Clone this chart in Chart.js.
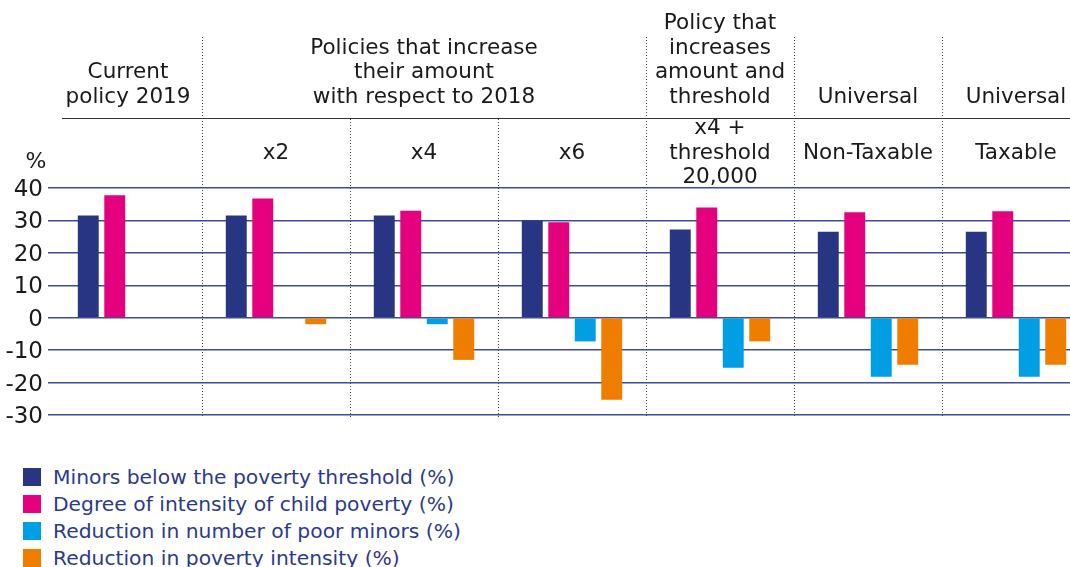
<!DOCTYPE html>
<html>
<head>
<meta charset="utf-8">
<script src="https://cdn.jsdelivr.net/npm/chart.js@4.4.1/dist/chart.umd.min.js"></script>
<style>
  html, body { margin: 0; padding: 0; background: #fff; overflow: hidden; width: 1070px; height: 567px; }
  #wrap { position: absolute; left: 0; top: 0; width: 1090px; height: 440px; }
  #legend { position: absolute; left: 23px; top: 463px; font-family: "DejaVu Sans", "Liberation Sans", sans-serif; font-size: 20.3px; color: #2d3a8a; }
  .item { height: 27px; display: flex; align-items: center; white-space: nowrap; }
  .box { width: 18px; height: 18px; margin-right: 12px; flex: none; }
</style>
</head>
<body>
<div id="wrap"><canvas id="grafica"></canvas></div>
<div id="legend"></div>
<script>
// categorias y cabeceras
const categorias = ['Current policy 2019', 'x2', 'x4', 'x6', 'x4 + threshold 20,000', 'Non-Taxable', 'Taxable'];
const cabecerasSup = [
    { lineas: ['Current', 'policy 2019'], desde: 0, hasta: 0 },
    { lineas: ['Policies that increase', 'their amount', 'with respect to 2018'], desde: 1, hasta: 3 },
    { lineas: ['Policy that', 'increases', 'amount and', 'threshold'], desde: 4, hasta: 4 },
    { lineas: ['Universal'], desde: 5, hasta: 5 },
    { lineas: ['Universal'], desde: 6, hasta: 6 }
];
const cabecerasInf = [[], ['x2'], ['x4'], ['x6'], ['x4 +', 'threshold', '20,000'], ['Non-Taxable'], ['Taxable']];

// series (%)
const menoresBajoUmbral = [31.5, 31.5, 31.5, 30.0, 27.2, 26.5, 26.5];
const intensidadPobreza = [37.8, 36.8, 33.0, 29.4, 34.0, 32.5, 32.8];
const reduccionMenores = [null, null, -2.0, -7.3, -15.4, -18.2, -18.2];
const reduccionIntensidad = [null, -2.0, -13.0, -25.3, -7.3, -14.5, -14.5];

const etiquetas = [
    'Minors below the poverty threshold (%)',
    'Degree of intensity of child poverty (%)',
    'Reduction in number of poor minors (%)',
    'Reduction in poverty intensity (%)'
];
const colores = ['#283583', '#e5007e', '#009fe3', '#ef7d00'];

const fuente = '"DejaVu Sans", "Liberation Sans", sans-serif';

const cabecerasPlugin = {
    id: 'cabeceras',
    afterDraw(chart) {
        const ctx = chart.ctx;
        const x = chart.scales.x;
        const area = chart.chartArea;
        const ancho = x.getPixelForValue(1) - x.getPixelForValue(0);
        const alto = 24.5;
        ctx.save();
        ctx.font = '21.5px ' + fuente;
        ctx.fillStyle = '#1a1a1a';
        ctx.textAlign = 'center';
        ctx.textBaseline = 'middle';

        cabecerasSup.forEach(function (c) {
            const cx = (x.getPixelForValue(c.desde) + x.getPixelForValue(c.hasta)) / 2;
            const n = c.lineas.length;
            c.lineas.forEach(function (t, i) {
                ctx.fillText(t, cx, 97 - (n - 1 - i) * alto);
            });
        });
        cabecerasInf.forEach(function (lineas, k) {
            const cx = x.getPixelForValue(k);
            const n = lineas.length;
            lineas.forEach(function (t, i) {
                ctx.fillText(t, cx, 153 + (i - (n - 1) / 2) * alto);
            });
        });

        ctx.font = '22px ' + fuente;
        ctx.fillText('%', 36, 162);

        // linea horizontal de cabecera
        ctx.strokeStyle = '#333';
        ctx.lineWidth = 1.2;
        ctx.beginPath();
        ctx.moveTo(62, 118.5);
        ctx.lineTo(chart.width, 118.5);
        ctx.stroke();

        // separadores punteados
        const limitesAltos = cabecerasSup.map(function (c) { return c.hasta; });
        ctx.setLineDash([1, 2]);
        ctx.lineWidth = 1;
        ctx.strokeStyle = '#444';
        for (let i = 0; i < categorias.length - 1; i++) {
            const px = Math.round(x.getPixelForValue(i) + ancho / 2) + 0.5;
            const y0 = limitesAltos.includes(i) ? 37 : 119;
            ctx.beginPath();
            ctx.moveTo(px, y0);
            ctx.lineTo(px, area.bottom + 3);
            ctx.stroke();
        }
        ctx.restore();
    }
};

const ctx = document.getElementById('grafica').getContext('2d');
new Chart(ctx, {
    type: 'bar',
    data: {
        labels: categorias,
        datasets: [menoresBajoUmbral, intensidadPobreza, reduccionMenores, reduccionIntensidad].map(function (d, i) {
            return {
                label: etiquetas[i],
                data: d,
                backgroundColor: colores[i],
                borderWidth: 0,
                categoryPercentage: 0.716,
                barPercentage: 0.79
            };
        })
    },
    options: {
        responsive: true,
        maintainAspectRatio: false,
        animation: false,
        layout: { padding: { top: 188, bottom: 25, left: 0, right: 0 } },
        plugins: { legend: { display: false }, tooltip: { enabled: false } },
        scales: {
            x: { display: false },
            y: {
                min: -30,
                max: 40,
                afterFit: function (scale) { scale.width = 54; },
                ticks: { stepSize: 10, padding: 5, labelOffset: 2, color: '#1a1a1a', font: { family: fuente, size: 23 } },
                grid: { color: '#3d4b9b', lineWidth: 1.5, drawTicks: true, tickLength: 6 },
                border: { display: false }
            }
        }
    },
    plugins: [cabecerasPlugin]
});

// leyenda
const leyenda = document.getElementById('legend');
etiquetas.forEach(function (t, i) {
    const fila = document.createElement('div');
    fila.className = 'item';
    fila.innerHTML = '<span class="box" style="background:' + colores[i] + '"></span><span>' + t + '</span>';
    leyenda.appendChild(fila);
});
</script>
</body>
</html>
